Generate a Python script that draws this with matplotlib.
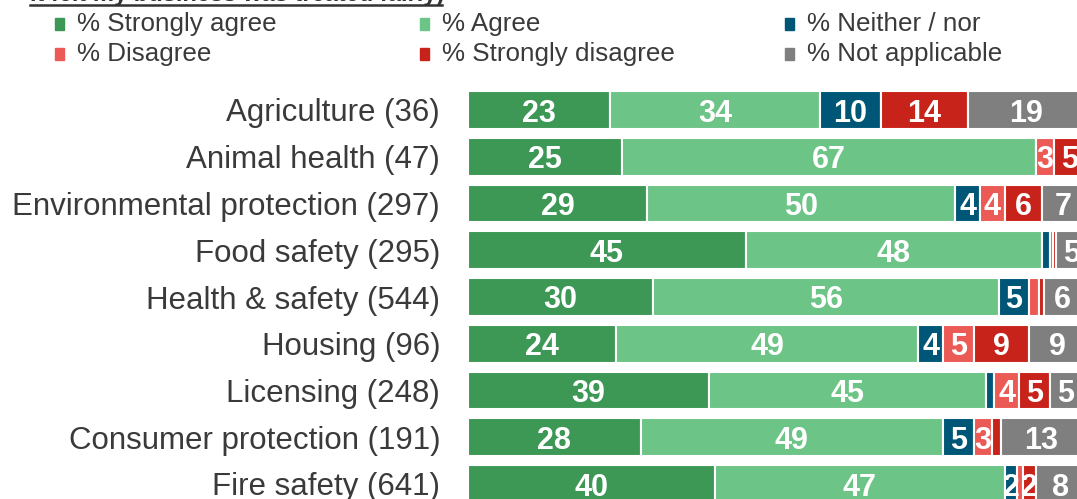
import numpy as np
import matplotlib.pyplot as plt
from matplotlib.patches import Rectangle
from matplotlib.lines import Line2D

plt.rcParams['font.family'] = ['Liberation Sans', 'DejaVu Sans']

categories = ['Agriculture (36)', 'Animal health (47)', 'Environmental protection (297)',
              'Food safety (295)', 'Health & safety (544)', 'Housing (96)',
              'Licensing (248)', 'Consumer protection (191)', 'Fire safety (641)']

series_names = ['% Strongly agree', '% Agree', '% Neither / nor',
                '% Disagree', '% Strongly disagree', '% Not applicable']
colors = ['#3d9856', '#6cc486', '#005677', '#ec5a55', '#c8231b', '#7f7f7f']

strongly_agree = [23, 25, 29, 45, 30, 24, 39, 28, 40]
agree = [34, 67, 50, 48, 56, 49, 45, 49, 47]
neither = [10, 0, 4, 1.3, 5, 4, 1.3, 5, 2]
disagree = [0, 3, 4, 0.5, 1.6, 5, 4, 3, 1]
strongly_disagree = [14, 5, 6, 0.5, 0.8, 9, 5, 1.4, 2]
not_applicable = [19, 0, 7, 5, 6, 9, 5, 13, 8]

series = [strongly_agree, agree, neither, disagree, strongly_disagree, not_applicable]

W, H = 1077, 499
fig = plt.figure(figsize=(W / 100, H / 100), dpi=100)

# axes run a little past the right edge of the figure
ax = fig.add_axes([468 / W, 0, 617 / W, (H - 87) / H])
y = np.arange(len(categories))
left = np.zeros(len(categories))
for vals, color in zip(series, colors):
    vals = np.array(vals, dtype=float)
    ax.barh(y, vals, left=left, height=0.81, color=color,
            edgecolor='white', linewidth=1.5)
    for yi, v, l in zip(y, vals, left):
        if v >= 2:
            ax.text(l + v / 2, yi, f'{v:.0f}', ha='center', va='center_baseline',
                    color='white', fontsize=22, fontweight='bold')
    left += vals

ax.set_xlim(0, 100)
ax.set_ylim((H - 110) / 46.75, (87 - 110) / 46.75)
ax.set_yticks(y)
ax.set_yticklabels(categories, fontsize=22.5, color='#3a3a3a')
ax.tick_params(axis='y', length=0, pad=20)
ax.set_xticks([])
for s in ax.spines.values():
    s.set_visible(False)

# legend laid out in two rows of three
col_x = [55, 420, 785]
row_y = [24, 54]
for k, name in enumerate(series_names):
    r, c = divmod(k, 3)
    px, py = col_x[c], row_y[r]
    fig.patches.append(Rectangle((px / W, (H - py - 6) / H), 9 / W, 12 / H,
                                 transform=fig.transFigure, color=colors[k]))
    fig.text((px + 22) / W, (H - py) / H, name, fontsize=18.7,
             color='#3a3a3a', va='center', ha='left')

# last line of the question title, mostly above the top edge
fig.text(30 / W, (H - 1) / H, 'it felt my business was treated fairly)',
         fontsize=17, fontweight='bold', color='#333333', va='baseline')
fig.lines.append(Line2D([30 / W, 442 / W], [(H - 4.5) / H] * 2,
                        transform=fig.transFigure, color='#333333', linewidth=1.8))

fig.savefig('out.png', dpi=100)
